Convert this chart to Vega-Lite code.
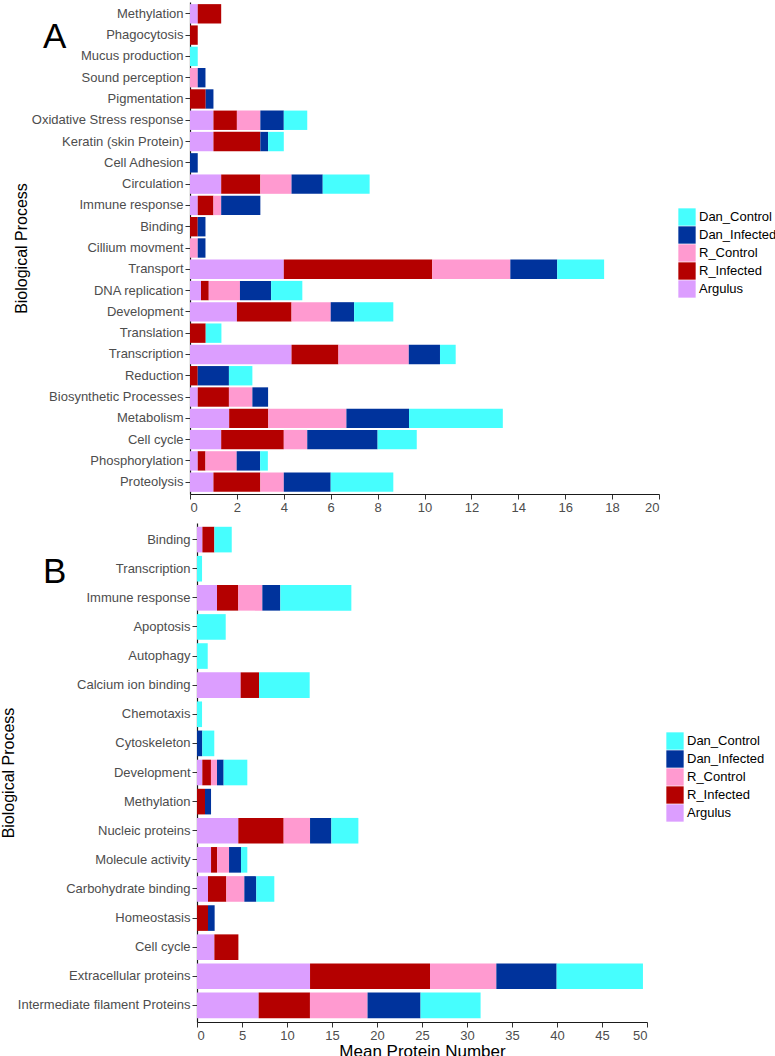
{
  "$schema": "https://vega.github.io/schema/vega-lite/v6.json",
  "background": "white",
  "padding": {"left": 0, "top": 2, "right": 0, "bottom": 0},
  "spacing": 9,
  "config": {
    "view": {"stroke": null},
    "font": "Liberation Sans",
    "axis": {
      "grid": false,
      "domainColor": "#1a1a1a",
      "domainWidth": 1.2,
      "tickColor": "#333333",
      "tickSize": 5,
      "labelColor": "#4D4D4D",
      "labelFontSize": 13,
      "labelFont": "Liberation Sans",
      "labelPadding": 2,
      "titleFont": "Liberation Sans",
      "titleFontWeight": "normal",
      "titleColor": "#000000"
    },
    "legend": {
      "symbolType": "square",
      "symbolSize": 300,
      "symbolStrokeWidth": 0,
      "labelFontSize": 13,
      "labelFont": "Liberation Sans",
      "labelColor": "#000000",
      "labelOffset": 3,
      "rowPadding": 0,
      "padding": 0
    },
    "title": {"font": "Liberation Sans", "fontWeight": "normal", "color": "#000000"}
  },
  "datasets": {
    "panelA": [
      {"process": "Methylation", "group": "Argulus", "value": 0.33},
      {"process": "Methylation", "group": "R_Infected", "value": 1.0},
      {"process": "Phagocytosis", "group": "R_Infected", "value": 0.33},
      {"process": "Mucus production", "group": "Dan_Control", "value": 0.33},
      {"process": "Sound perception", "group": "R_Control", "value": 0.33},
      {"process": "Sound perception", "group": "Dan_Infected", "value": 0.33},
      {"process": "Pigmentation", "group": "R_Infected", "value": 0.67},
      {"process": "Pigmentation", "group": "Dan_Infected", "value": 0.33},
      {"process": "Oxidative Stress response", "group": "Argulus", "value": 1.0},
      {"process": "Oxidative Stress response", "group": "R_Infected", "value": 1.0},
      {"process": "Oxidative Stress response", "group": "R_Control", "value": 1.0},
      {"process": "Oxidative Stress response", "group": "Dan_Infected", "value": 1.0},
      {"process": "Oxidative Stress response", "group": "Dan_Control", "value": 1.0},
      {"process": "Keratin (skin Protein)", "group": "Argulus", "value": 1.0},
      {"process": "Keratin (skin Protein)", "group": "R_Infected", "value": 2.0},
      {"process": "Keratin (skin Protein)", "group": "Dan_Infected", "value": 0.33},
      {"process": "Keratin (skin Protein)", "group": "Dan_Control", "value": 0.67},
      {"process": "Cell Adhesion", "group": "Dan_Infected", "value": 0.33},
      {"process": "Circulation", "group": "Argulus", "value": 1.33},
      {"process": "Circulation", "group": "R_Infected", "value": 1.67},
      {"process": "Circulation", "group": "R_Control", "value": 1.33},
      {"process": "Circulation", "group": "Dan_Infected", "value": 1.33},
      {"process": "Circulation", "group": "Dan_Control", "value": 2.0},
      {"process": "Immune response", "group": "Argulus", "value": 0.33},
      {"process": "Immune response", "group": "R_Infected", "value": 0.67},
      {"process": "Immune response", "group": "R_Control", "value": 0.33},
      {"process": "Immune response", "group": "Dan_Infected", "value": 1.67},
      {"process": "Binding", "group": "R_Infected", "value": 0.33},
      {"process": "Binding", "group": "Dan_Infected", "value": 0.33},
      {"process": "Cillium movment", "group": "R_Control", "value": 0.33},
      {"process": "Cillium movment", "group": "Dan_Infected", "value": 0.33},
      {"process": "Transport", "group": "Argulus", "value": 4.0},
      {"process": "Transport", "group": "R_Infected", "value": 6.33},
      {"process": "Transport", "group": "R_Control", "value": 3.33},
      {"process": "Transport", "group": "Dan_Infected", "value": 2.0},
      {"process": "Transport", "group": "Dan_Control", "value": 2.0},
      {"process": "DNA replication", "group": "Argulus", "value": 0.47},
      {"process": "DNA replication", "group": "R_Infected", "value": 0.33},
      {"process": "DNA replication", "group": "R_Control", "value": 1.33},
      {"process": "DNA replication", "group": "Dan_Infected", "value": 1.33},
      {"process": "DNA replication", "group": "Dan_Control", "value": 1.33},
      {"process": "Development", "group": "Argulus", "value": 2.0},
      {"process": "Development", "group": "R_Infected", "value": 2.33},
      {"process": "Development", "group": "R_Control", "value": 1.67},
      {"process": "Development", "group": "Dan_Infected", "value": 1.0},
      {"process": "Development", "group": "Dan_Control", "value": 1.67},
      {"process": "Translation", "group": "R_Infected", "value": 0.67},
      {"process": "Translation", "group": "Dan_Control", "value": 0.67},
      {"process": "Transcription", "group": "Argulus", "value": 4.33},
      {"process": "Transcription", "group": "R_Infected", "value": 2.0},
      {"process": "Transcription", "group": "R_Control", "value": 3.0},
      {"process": "Transcription", "group": "Dan_Infected", "value": 1.33},
      {"process": "Transcription", "group": "Dan_Control", "value": 0.67},
      {"process": "Reduction", "group": "R_Infected", "value": 0.33},
      {"process": "Reduction", "group": "Dan_Infected", "value": 1.33},
      {"process": "Reduction", "group": "Dan_Control", "value": 1.0},
      {"process": "Biosynthetic Processes", "group": "Argulus", "value": 0.33},
      {"process": "Biosynthetic Processes", "group": "R_Infected", "value": 1.33},
      {"process": "Biosynthetic Processes", "group": "R_Control", "value": 1.0},
      {"process": "Biosynthetic Processes", "group": "Dan_Infected", "value": 0.67},
      {"process": "Metabolism", "group": "Argulus", "value": 1.67},
      {"process": "Metabolism", "group": "R_Infected", "value": 1.67},
      {"process": "Metabolism", "group": "R_Control", "value": 3.33},
      {"process": "Metabolism", "group": "Dan_Infected", "value": 2.67},
      {"process": "Metabolism", "group": "Dan_Control", "value": 4.0},
      {"process": "Cell cycle", "group": "Argulus", "value": 1.33},
      {"process": "Cell cycle", "group": "R_Infected", "value": 2.67},
      {"process": "Cell cycle", "group": "R_Control", "value": 1.0},
      {"process": "Cell cycle", "group": "Dan_Infected", "value": 3.0},
      {"process": "Cell cycle", "group": "Dan_Control", "value": 1.67},
      {"process": "Phosphorylation", "group": "Argulus", "value": 0.33},
      {"process": "Phosphorylation", "group": "R_Infected", "value": 0.33},
      {"process": "Phosphorylation", "group": "R_Control", "value": 1.33},
      {"process": "Phosphorylation", "group": "Dan_Infected", "value": 1.0},
      {"process": "Phosphorylation", "group": "Dan_Control", "value": 0.33},
      {"process": "Proteolysis", "group": "Argulus", "value": 1.0},
      {"process": "Proteolysis", "group": "R_Infected", "value": 2.0},
      {"process": "Proteolysis", "group": "R_Control", "value": 1.0},
      {"process": "Proteolysis", "group": "Dan_Infected", "value": 2.0},
      {"process": "Proteolysis", "group": "Dan_Control", "value": 2.67}
    ],
    "panelB": [
      {"process": "Binding", "group": "Argulus", "value": 0.6},
      {"process": "Binding", "group": "R_Infected", "value": 1.33},
      {"process": "Binding", "group": "Dan_Control", "value": 1.93},
      {"process": "Transcription", "group": "Dan_Control", "value": 0.56},
      {"process": "Immune response", "group": "Argulus", "value": 2.22},
      {"process": "Immune response", "group": "R_Infected", "value": 2.37},
      {"process": "Immune response", "group": "R_Control", "value": 2.67},
      {"process": "Immune response", "group": "Dan_Infected", "value": 2.0},
      {"process": "Immune response", "group": "Dan_Control", "value": 7.89},
      {"process": "Apoptosis", "group": "Dan_Control", "value": 3.19},
      {"process": "Autophagy", "group": "Dan_Control", "value": 1.19},
      {"process": "Calcium ion binding", "group": "Argulus", "value": 4.85},
      {"process": "Calcium ion binding", "group": "R_Infected", "value": 2.04},
      {"process": "Calcium ion binding", "group": "Dan_Control", "value": 5.63},
      {"process": "Chemotaxis", "group": "Dan_Control", "value": 0.56},
      {"process": "Cytoskeleton", "group": "Dan_Infected", "value": 0.59},
      {"process": "Cytoskeleton", "group": "Dan_Control", "value": 1.33},
      {"process": "Development", "group": "Argulus", "value": 0.59},
      {"process": "Development", "group": "R_Infected", "value": 0.96},
      {"process": "Development", "group": "R_Control", "value": 0.67},
      {"process": "Development", "group": "Dan_Infected", "value": 0.74},
      {"process": "Development", "group": "Dan_Control", "value": 2.63},
      {"process": "Methylation", "group": "R_Infected", "value": 0.89},
      {"process": "Methylation", "group": "Dan_Infected", "value": 0.67},
      {"process": "Nucleic proteins", "group": "Argulus", "value": 4.59},
      {"process": "Nucleic proteins", "group": "R_Infected", "value": 5.04},
      {"process": "Nucleic proteins", "group": "R_Control", "value": 2.93},
      {"process": "Nucleic proteins", "group": "Dan_Infected", "value": 2.37},
      {"process": "Nucleic proteins", "group": "Dan_Control", "value": 3.0},
      {"process": "Molecule activity", "group": "Argulus", "value": 1.56},
      {"process": "Molecule activity", "group": "R_Infected", "value": 0.67},
      {"process": "Molecule activity", "group": "R_Control", "value": 1.33},
      {"process": "Molecule activity", "group": "Dan_Infected", "value": 1.33},
      {"process": "Molecule activity", "group": "Dan_Control", "value": 0.7},
      {"process": "Carbohydrate binding", "group": "Argulus", "value": 1.22},
      {"process": "Carbohydrate binding", "group": "R_Infected", "value": 2.04},
      {"process": "Carbohydrate binding", "group": "R_Control", "value": 2.0},
      {"process": "Carbohydrate binding", "group": "Dan_Infected", "value": 1.33},
      {"process": "Carbohydrate binding", "group": "Dan_Control", "value": 2.0},
      {"process": "Homeostasis", "group": "R_Infected", "value": 1.22},
      {"process": "Homeostasis", "group": "Dan_Infected", "value": 0.74},
      {"process": "Cell cycle", "group": "Argulus", "value": 1.93},
      {"process": "Cell cycle", "group": "R_Infected", "value": 2.67},
      {"process": "Extracellular proteins", "group": "Argulus", "value": 12.56},
      {"process": "Extracellular proteins", "group": "R_Infected", "value": 13.33},
      {"process": "Extracellular proteins", "group": "R_Control", "value": 7.37},
      {"process": "Extracellular proteins", "group": "Dan_Infected", "value": 6.7},
      {"process": "Extracellular proteins", "group": "Dan_Control", "value": 9.59},
      {"process": "Intermediate filament Proteins", "group": "Argulus", "value": 6.85},
      {"process": "Intermediate filament Proteins", "group": "R_Infected", "value": 5.7},
      {"process": "Intermediate filament Proteins", "group": "R_Control", "value": 6.4},
      {"process": "Intermediate filament Proteins", "group": "Dan_Infected", "value": 5.89},
      {"process": "Intermediate filament Proteins", "group": "Dan_Control", "value": 6.67}
    ]
  },
  "resolve": {"scale": {"color": "independent"}, "legend": {"color": "independent"}},
  "vconcat": [
    {
      "width": 469,
      "height": 492,
      "title": {"text": "A", "anchor": "start", "frame": "group", "orient": "top", "offset": 0, "fontSize": 35, "baseline": "alphabetic", "dx": -147, "dy": 81},
      "data": {"name": "panelA"},
      "transform": [
        {"calculate": "indexof(['Argulus','R_Infected','R_Control','Dan_Infected','Dan_Control'], datum.group)", "as": "stack_rank"}
      ],
      "mark": {"type": "bar"},
      "encoding": {
        "y": {
          "field": "process", "type": "nominal", "sort": null,
          "scale": {"paddingInner": 0.09, "paddingOuter": 0.1},
          "axis": {"title": "Biological Process", "titleFontSize": 16, "titlePadding": 2}
        },
        "x": {
          "field": "value", "type": "quantitative", "stack": "zero",
          "scale": {"domain": [0, 20], "nice": false},
          "axis": {"title": null, "values": [0, 2, 4, 6, 8, 10, 12, 14, 16, 18, 20]}
        },
        "color": {
          "field": "group", "type": "nominal",
          "scale": {
            "domain": ["Dan_Control", "Dan_Infected", "R_Control", "R_Infected", "Argulus"],
            "range": ["#46FEFE", "#00339C", "#FF9AD0", "#B40000", "#DC9EFF"]
          },
          "legend": {"title": null, "orient": "none", "legendX": 488, "legendY": 206}
        },
        "order": {"field": "stack_rank", "type": "quantitative", "sort": "ascending"}
      }
    },
    {
      "width": 457,
      "height": 499,
      "title": {"text": "B", "anchor": "start", "frame": "group", "orient": "top", "offset": 0, "fontSize": 35, "baseline": "alphabetic", "dx": -147, "dy": 95},
      "data": {"name": "panelB"},
      "transform": [
        {"calculate": "indexof(['Argulus','R_Infected','R_Control','Dan_Infected','Dan_Control'], datum.group)", "as": "stack_rank"}
      ],
      "mark": {"type": "bar"},
      "encoding": {
        "y": {
          "field": "process", "type": "nominal", "sort": null,
          "scale": {"paddingInner": 0.12, "paddingOuter": 0.13},
          "axis": {"title": "Biological Process", "titleFontSize": 16, "titlePadding": 1, "offset": -7}
        },
        "x": {
          "field": "value", "type": "quantitative", "stack": "zero",
          "scale": {"domain": [0, 50], "nice": false, "range": [7, 457]},
          "axis": {"title": "Mean Protein Number", "titleFontSize": 17, "titlePadding": 1, "values": [0, 5, 10, 15, 20, 25, 30, 35, 40, 45, 50]}
        },
        "color": {
          "field": "group", "type": "nominal",
          "scale": {
            "domain": ["Dan_Control", "Dan_Infected", "R_Control", "R_Infected", "Argulus"],
            "range": ["#46FEFE", "#00339C", "#FF9AD0", "#B40000", "#DC9EFF"]
          },
          "legend": {"title": null, "orient": "none", "legendX": 476, "legendY": 209}
        },
        "order": {"field": "stack_rank", "type": "quantitative", "sort": "ascending"}
      }
    }
  ]
}
